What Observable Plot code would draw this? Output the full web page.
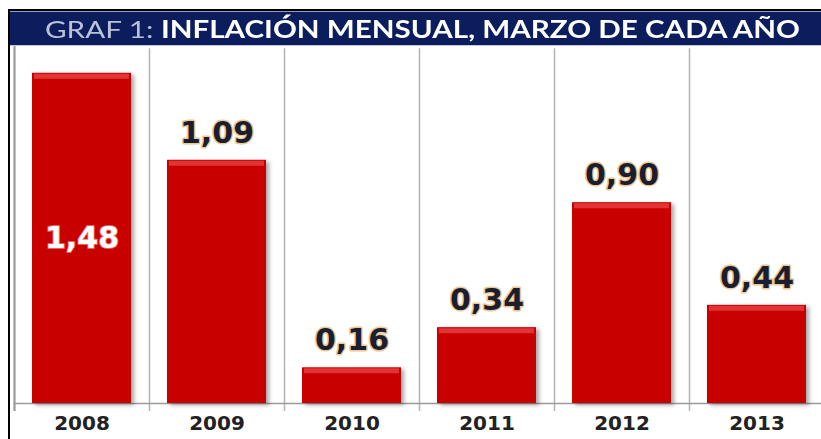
<!DOCTYPE html>
<html>
<head>
<meta charset="utf-8">
<script src="https://cdn.jsdelivr.net/npm/d3@7"></script>
<script src="https://cdn.jsdelivr.net/npm/@observablehq/plot@0.6"></script>
<style>
  html, body { margin: 0; padding: 0; background: #fff; overflow: hidden; width: 821px; height: 439px; }
  #wrap { position: absolute; left: 8px; top: 9px; width: 830px; height: 440px;
          border-left: 2px solid #000; border-top: 2px solid #000; }
  #title { position: relative; height: 33px; background: #0b1d5c; border-top: 1px solid #8c9cc4; border-bottom: 1px solid #c3cbe0;
           font-family: Lato, "Open Sans", sans-serif; font-size: 24px; line-height: 34px;
           color: #fff; width: 813px; white-space: nowrap; overflow: hidden; }
  #ttext { position: absolute; left: 0; top: 0; display: inline-block; transform-origin: 0 50%; }
  #title .pre { color: #b9c3d8; font-weight: normal; }
  #title .main { font-weight: bold; }
  #chart svg { display: block; max-width: none; }
</style>
</head>
<body>
<div id="wrap">
  <div id="title"><span id="ttext"><span class="pre">GRAF 1: </span><span class="main">INFLACIÓN MENSUAL, MARZO DE CADA AÑO</span></span></div>
  <div id="chart"></div>
</div>
<script>
const years = ["2008", "2009", "2010", "2011", "2012", "2013"];
const values = [1.48, 1.09, 0.16, 0.34, 0.90, 0.44];
const valueLabels = ["1,48", "1,09", "0,16", "0,34", "0,90", "0,44"];
const labelInside = [true, false, false, false, false, false];

const data = years.map((y, i) => ({year: y, value: values[i], label: valueLabels[i], inside: labelInside[i]}));

const width = 816, height = 393, marginLeft = 4, marginRight = 2;
const bw = (width - marginLeft - marginRight) / years.length;

const chart = Plot.plot({
  width, height,
  marginTop: 0, marginBottom: 36, marginLeft, marginRight,
  x: {domain: years, paddingInner: 0.27, paddingOuter: 0.135, align: 0.5, label: null},
  y: {domain: [0, 1.6], axis: null},
  marks: [
    Plot.ruleX(years, {x: d => d, dx: -bw / 2, y1: 1.59, y2: 0, insetBottom: -8, stroke: "#b3b3b3", strokeWidth: 1.5}),
    Plot.ruleX(years.slice(0, 1), {x: d => d, dx: -bw / 2, y1: 1.6, y2: 0, insetBottom: -8, stroke: "#9a9a9a", strokeWidth: 2}),
    Plot.ruleY([0], {stroke: "#9a9a9a", strokeWidth: 1.5}),
    Plot.barY(data, {x: "year", y: "value", fill: "#c80000"}),
    Plot.tickY(data, {x: "year", y: "value", dy: 3, stroke: "#e23434", strokeWidth: 5, insetLeft: 2, insetRight: 2}),
    Plot.text(data.filter(d => !d.inside), {
      x: "year", y: "value", text: "label", dy: -27,
      fontFamily: "DejaVu Sans", fontWeight: "bold", fontSize: 30,
      fill: "#1b1e2e", stroke: "#edc995", strokeWidth: 3, paintOrder: "stroke"
    }),
    Plot.text(data.filter(d => d.inside), {
      x: "year", y: d => d.value / 2, text: "label",
      fontFamily: "DejaVu Sans", fontWeight: "bold", fontSize: 30,
      fill: "#ffffff", stroke: "#e86060", strokeWidth: 2, paintOrder: "stroke"
    }),
    Plot.axisX({tickSize: 0, tickPadding: 12, fontSize: 20, fontWeight: "bold", fontFamily: "DejaVu Sans", fill: "#222222", label: null})
  ]
});
d3.select(chart).selectAll('g[aria-label="bar"]').style("filter", "drop-shadow(3px 2px 2px rgba(0,0,0,0.35))");
document.getElementById("chart").appendChild(chart);

// stretch the title to the reference's span (page x 45 to 800)
const tt = document.getElementById("ttext");
const w = tt.getBoundingClientRect().width;
const target = 755;
tt.style.left = (45 - 10) + "px";
tt.style.transform = `scaleX(${target / w})`;
</script>
</body>
</html>
